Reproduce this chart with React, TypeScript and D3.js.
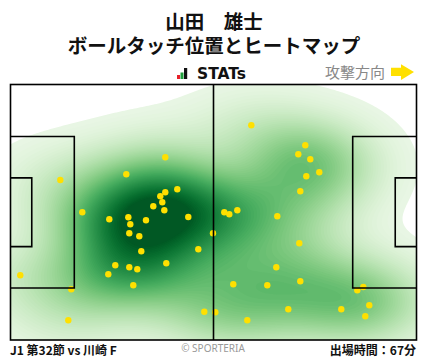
import React from 'react';
import * as d3 from 'd3';

// ball touch positions, in metres on a 105 x 68 pitch (attack to the right)
const touchX = [40.03, 29.95, 12.88, 43.14, 40.03, 38.74, 39.26, 36.93, 39.78, 18.57, 25.55, 30.47, 30.98, 35.04, 45.98, 30.72, 33.31, 52.37, 33.83, 48.57, 40.29, 27.10, 30.72, 32.79, 25.29, 2.53, 31.76, 15.72, 14.95, 50.12, 52.97, 62.28, 76.24, 74.43, 77.53, 79.86, 76.50, 74.95, 55.29, 56.59, 58.66, 69.00, 74.69, 68.74, 57.62, 66.41, 74.95, 89.69, 91.24, 92.79, 91.76, 85.55, 71.84, 61.24];
const touchY = [19.37, 23.90, 25.42, 27.89, 28.69, 29.75, 31.35, 32.42, 33.48, 34.01, 35.88, 35.34, 37.21, 36.14, 35.26, 39.60, 40.40, 39.60, 44.39, 43.86, 47.59, 48.12, 48.65, 49.18, 50.51, 50.78, 53.44, 54.51, 62.76, 60.47, 60.63, 10.86, 16.18, 18.58, 19.91, 23.37, 24.43, 28.42, 34.01, 34.54, 33.48, 35.08, 42.26, 48.65, 53.17, 53.44, 52.38, 54.77, 53.89, 58.76, 61.69, 59.83, 59.83, 62.76];

const titleLines = ['山田\u3000雄士', 'ボールタッチ位置とヒートマップ'];
const matchLabel = 'J1 第32節 vs 川崎 F';
const minutesLabel = '出場時間：67分';
const creditLabel = '© SPORTERIA';
const directionLabel = '攻撃方向';
const logoLabel = 'STATs';

const W = 428;
const H = 359;
const JP = "'Noto Sans CJK JP', 'Noto Sans', sans-serif";

export default function App() {
  const x = d3.scaleLinear().domain([0, 105]).range([10.5, 416.5]);
  const y = d3.scaleLinear().domain([0, 68]).range([84.5, 340]);

  // Kernel density grid (pixel space)
  const cell = 2;
  const pad = 4;
  const gx0 = x(0) - pad * cell;
  const gy0 = y(0) - pad * cell;
  const nx = Math.ceil((x(105) - x(0)) / cell) + pad * 2 + 1;
  const ny = Math.ceil((y(68) - y(0)) / cell) + pad * 2 + 1;
  const sx = 45;
  const sy = 27;
  const pts = touchX.map((d, i) => [x(d), y(touchY[i])]);
  const values: number[] = new Array(nx * ny).fill(0);
  for (let j = 0; j < ny; j++) {
    const py = gy0 + j * cell;
    for (let i = 0; i < nx; i++) {
      const px = gx0 + i * cell;
      let s = 0;
      for (const p of pts) {
        const dx = (px - p[0]) / sx;
        const dy = (py - p[1]) / sy;
        s += Math.exp(-0.5 * (dx * dx + dy * dy));
      }
      values[j * nx + i] = s;
    }
  }
  const vmax = d3.max(values) as number;
  const vtop = vmax * 0.88;
  const lo = 0.02;
  const N = 70;
  const P = 0.85;
  const plo = Math.pow(lo * vmax / vtop, P);
  const thresholds = d3.range(N).map((k) => {
    const s = plo + (1 - plo) * (k / N);
    return vtop * Math.pow(s, 1 / P);
  });
  const contours = d3.contours().size([nx, ny]).thresholds(thresholds)(values);
  const geo = d3.geoPath(
    d3.geoIdentity().scale(cell).translate([gx0 - cell / 2, gy0 - cell / 2]) as any
  );
  const color = (v: number) => {
    const s = Math.min(1, Math.pow(v / vtop, P));
    return d3.interpolateGreens(0.06 + 0.89 * Math.max(0, s));
  };

  const line = { stroke: '#000', strokeWidth: 1.6, fill: 'none' };
  const penTop = 34 - 20.16;
  const penBot = 34 + 20.16;
  const gaTop = 34 - 9.16;
  const gaBot = 34 + 9.16;

  return (
    <svg width={W} height={H} style={{ display: 'block', position: 'absolute', left: 0, top: 0 }}>
      <rect width={W} height={H} fill="#fff" />
      <text x={214} y={29} textAnchor="middle" fontFamily={JP} fontWeight="bold" fontSize={19.5} fill="#111">
        {titleLines[0]}
      </text>
      <text x={214} y={53} textAnchor="middle" fontFamily={JP} fontWeight="bold" fontSize={19.5} fill="#111">
        {titleLines[1]}
      </text>

      {/* STATs logo */}
      <rect x={177} y={75} width={3} height={4} fill="#e8202a" />
      <rect x={180.5} y={72.5} width={3} height={6.5} fill="#1fa03c" />
      <rect x={184} y={68} width={3.2} height={11} fill="#111" />
      <text x={197} y={79} fontFamily="'DejaVu Sans', sans-serif" fontWeight="bold" fontSize={15.5} fill="#111">
        {logoLabel}
      </text>

      {/* direction */}
      <text x={385} y={78} textAnchor="end" fontFamily={JP} fontSize={15} fill="#888">
        {directionLabel}
      </text>
      <path d="M391,67.7 L401,67.7 L401,64.3 L414,72 L401,80 L401,76 L391,76 Z" fill="#ffe000" />

      <defs>
        <clipPath id="pitchClip">
          <rect x={x(0)} y={y(0)} width={x(105) - x(0)} height={y(68) - y(0)} />
        </clipPath>
      </defs>
      <g clipPath="url(#pitchClip)">
        {contours.map((c, i) => (
          <path key={i} d={geo(c as any) || ''} fill={color(c.value)} />
        ))}
      </g>

      {/* touches */}
      {touchX.map((d, i) => (
        <circle key={i} cx={x(d)} cy={y(touchY[i])} r={3.2} fill="#ffe000" />
      ))}

      {/* pitch lines */}
      <rect x={x(0)} y={y(0)} width={x(105) - x(0)} height={y(68) - y(0)} {...line} />
      <line x1={x(52.5)} x2={x(52.5)} y1={y(0)} y2={y(68)} {...line} />
      <path d={`M${x(0)},${y(penTop)} H${x(16.5)} V${y(penBot)} H${x(0)}`} {...line} />
      <path d={`M${x(0)},${y(gaTop)} H${x(5.5)} V${y(gaBot)} H${x(0)}`} {...line} />
      <path d={`M${x(105)},${y(penTop)} H${x(105 - 16.5)} V${y(penBot)} H${x(105)}`} {...line} />
      <path d={`M${x(105)},${y(gaTop)} H${x(105 - 5.5)} V${y(gaBot)} H${x(105)}`} {...line} />

      {/* footer */}
      <text x={10} y={355} fontFamily={JP} fontWeight="bold" fontSize={12} fill="#111">
        {matchLabel}
      </text>
      <text x={213} y={352} textAnchor="middle" fontFamily="'Noto Sans', sans-serif" fontSize={10} fill="#999">
        {creditLabel}
      </text>
      <text x={416} y={355} textAnchor="end" fontFamily={JP} fontWeight="bold" fontSize={12} fill="#111">
        {minutesLabel}
      </text>
    </svg>
  );
}
